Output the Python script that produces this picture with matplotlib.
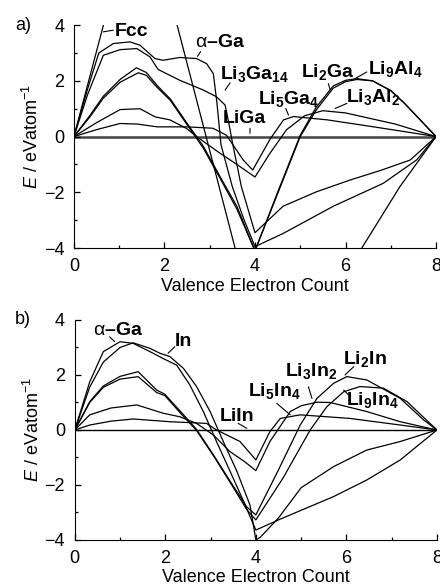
import matplotlib
matplotlib.use("Agg")
import matplotlib.pyplot as plt
from matplotlib.ticker import MultipleLocator

plt.rcParams['font.family'] = ['Liberation Sans', 'DejaVu Sans']
plt.rcParams['mathtext.fontset'] = 'custom'
plt.rcParams['mathtext.rm'] = 'Liberation Sans'
plt.rcParams['mathtext.it'] = 'Liberation Sans:italic'
plt.rcParams['mathtext.bf'] = 'Liberation Sans:bold'

# ---- panel a) : energies relative to LiGa (zero line) ----
fcc_x = [0, 0.75, 1.4, 2.2, 2.28, 3.56, 3.7, 5.0, 6.2, 6.36, 7.2, 8]
fcc_y = [0, 4.6, 6.0, 4.5, 4.0, -4.0, -4.9, -7.0, -4.9, -4.0, -1.8, 0]

aga_a_x = [0, 0.3, 0.55, 0.87, 1.24, 1.46, 1.79, 1.97, 2.34, 2.71, 2.93, 3.08, 3.16, 3.25, 3.5, 3.75, 4.0, 4.63, 5.73, 6.83, 7.57, 8]
aga_a_y = [0, 1.7, 3.0, 3.34, 3.4, 3.28, 2.8, 2.74, 2.84, 2.8, 2.62, 2.26, 1.2, -0.3, -1.8, -2.95, -3.95, -3.47, -2.5, -1.68, -0.84, 0]

li3ga14_x = [0, 0.3, 0.65, 1.02, 1.39, 1.68, 1.86, 2.34, 2.86, 3.15, 3.34, 3.42, 3.5, 3.7, 4.0, 4.62, 5.36, 6.1, 6.8, 7.43, 8]
li3ga14_y = [0, 1.5, 2.92, 3.12, 3.16, 2.86, 2.41, 2.02, 1.67, 1.43, 1.13, 0.5, -0.2, -1.8, -3.45, -2.5, -1.98, -1.56, -1.2, -0.84, 0]

li2ga_x = [0, 0.35, 0.65, 1.02, 1.38, 1.6, 1.83, 2.13, 2.49, 2.86, 3.23, 3.6, 4.0, 4.5, 5.0, 5.35, 5.73, 6.0, 6.25, 6.6, 7.0, 7.3, 7.65, 8]
li2ga_y = [0, 0.75, 1.45, 2.05, 2.47, 2.3, 1.85, 1.35, 0.5, -0.35, -1.44, -2.5, -4.1, -2.0, 0.05, 1.05, 1.82, 2.02, 2.08, 2.0, 1.65, 1.2, 0.6, 0]

li9al4_x = [0, 0.35, 0.65, 1.02, 1.42, 1.6, 1.83, 2.13, 2.49, 2.86, 3.23, 3.6, 4.0, 4.5, 5.0, 5.35, 5.73, 6.0, 6.25, 6.6, 7.0, 7.3, 7.65, 8]
li9al4_y = [0, 0.7, 1.38, 1.95, 2.29, 2.2, 1.78, 1.3, 0.45, -0.42, -1.5, -2.6, -4.1, -2.05, 0.0, 0.95, 1.74, 1.97, 2.05, 2.0, 1.65, 1.2, 0.6, 0]

li5ga4_x = [0, 0.5, 1.02, 1.4, 1.84, 2.5, 3.07, 3.37, 3.74, 3.95, 4.33, 4.63, 4.85, 5.6, 6.5, 7.3, 8]
li5ga4_y = [0, 0.25, 0.47, 0.45, 0.35, 0.35, 0.3, 0.05, -0.84, -1.2, -0.1, 0.6, 0.72, 0.6, 0.38, 0.18, 0]

li3al2_x = [0, 0.5, 1.02, 1.46, 1.79, 2.12, 2.49, 2.71, 3.23, 3.6, 4.0, 4.33, 4.7, 5.1, 5.5, 6.0, 7.1, 8]
li3al2_y = [0, 0.5, 0.97, 1.0, 0.71, 0.6, 0.29, 0.0, -0.6, -1.0, -1.45, -0.6, 0.25, 0.75, 0.93, 0.85, 0.45, 0]

# ---- panel b) : energies relative to LiIn (zero line) ----
aga_b_x = [0, 0.33, 0.63, 1.0, 1.29, 1.66, 1.95, 2.25, 2.54, 2.84, 3.13, 3.43, 3.73, 4.0, 4.5, 5.72, 6.45, 7.19, 8]
aga_b_y = [0, 1.75, 2.85, 3.21, 3.15, 2.85, 2.6, 2.36, 1.64, 0.67, -0.42, -1.5, -2.6, -3.64, -3.27, -2.42, -1.82, -1.09, 0]

in_x = [0, 0.33, 0.63, 1.0, 1.29, 1.66, 1.88, 2.1, 2.4, 2.69, 2.99, 3.28, 3.58, 3.87, 4.0, 4.1, 4.5, 5.0, 5.72, 6.45, 7.19, 8]
in_y = [0, 1.56, 2.47, 3.0, 3.17, 2.97, 2.79, 2.67, 2.24, 1.58, 0.67, -0.42, -1.5, -2.73, -4.0, -3.9, -3.2, -2.1, -1.33, -0.73, -0.42, 0]

li2in_x = [0, 0.33, 0.63, 1.0, 1.4, 1.81, 1.99, 2.32, 2.69, 3.06, 3.43, 3.8, 4.0, 4.5, 4.98, 5.35, 5.72, 6.01, 6.45, 7.19, 7.71, 8]
li2in_y = [0, 1.03, 1.6, 1.95, 2.12, 1.45, 1.3, 0.7, 0.02, -0.9, -1.86, -2.8, -3.09, -1.45, 0.18, 1.15, 1.7, 1.94, 1.82, 1.15, 0.36, 0]

li9in4_x = [0, 0.33, 0.63, 1.0, 1.4, 1.81, 1.99, 2.32, 2.69, 3.06, 3.43, 3.8, 4.0, 4.6, 5.2, 5.57, 5.94, 6.3, 6.82, 7.34, 8]
li9in4_y = [0, 1.0, 1.55, 1.85, 1.94, 1.36, 1.25, 0.64, -0.02, -0.93, -1.9, -2.9, -3.27, -1.75, 0.0, 0.85, 1.39, 1.58, 1.52, 1.03, 0]

li3in2_x = [0, 0.33, 0.8, 1.37, 1.95, 2.32, 2.69, 3.06, 3.43, 3.75, 4.0, 4.31, 4.76, 5.0, 5.35, 5.64, 6.45, 7.19, 8]
li3in2_y = [0, 0.55, 0.8, 0.91, 0.61, 0.48, 0.24, -0.18, -0.79, -1.15, -1.48, -0.42, 0.67, 0.88, 1.01, 1.0, 0.67, 0.3, 0]

li5in4_x = [0, 0.33, 0.8, 1.29, 2.1, 2.91, 3.13, 3.43, 3.65, 4.0, 4.31, 4.54, 4.98, 6.08, 7.19, 8]
li5in4_y = [0, 0.18, 0.32, 0.4, 0.3, 0.24, 0.0, -0.24, -0.42, -1.09, -0.06, 0.42, 0.55, 0.42, 0.18, 0]


def style_axes(ax):
    ax.set_xlim(0, 8)
    ax.set_ylim(-4, 4)
    ax.spines['top'].set_visible(False)
    ax.spines['right'].set_visible(False)
    ax.xaxis.set_major_locator(MultipleLocator(2))
    ax.xaxis.set_minor_locator(MultipleLocator(1))
    ax.yaxis.set_major_locator(MultipleLocator(2))
    ax.yaxis.set_minor_locator(MultipleLocator(1))
    ax.tick_params(which='both', direction='in', width=0.9, labelsize=13)
    ax.tick_params(which='major', length=4, pad=7)
    ax.tick_params(which='minor', length=2.5)
    ax.set_xticks([0, 2, 4, 6, 8])
    ax.set_yticks([-4, -2, 0, 2, 4])
    ax.set_yticklabels(['\u22124', '\u22122', '0', '2', '4'])
    ax.set_xlabel('Valence Electron Count', fontsize=13, labelpad=2)
    ax.set_ylabel(r'$\mathit{E}$ / eVatom$^{-1}$', fontsize=13, labelpad=1)


def label(ax, txt, xy, xytext, tx, ty, ha='left'):
    ax.annotate('', xy=xy, xytext=xytext,
                arrowprops=dict(arrowstyle='-', lw=0.8, color='black', shrinkA=0, shrinkB=0))
    ax.text(tx, ty, txt, fontsize=14, fontweight='bold', ha=ha, va='center')


fig = plt.figure(figsize=(4.4, 5.85), dpi=100)
ax1 = fig.add_axes([0.168, 0.576, 0.823, 0.381])
ax2 = fig.add_axes([0.170, 0.077, 0.823, 0.376])

kw = dict(color='black', lw=0.9)

# panel a
ax1.axhline(0, color='#444444', lw=1.8, zorder=1)
for xs, ys in [(fcc_x, fcc_y), (aga_a_x, aga_a_y), (li3ga14_x, li3ga14_y),
               (li2ga_x, li2ga_y), (li9al4_x, li9al4_y), (li5ga4_x, li5ga4_y),
               (li3al2_x, li3al2_y)]:
    ax1.plot(xs, ys, **kw)
style_axes(ax1)

alpha_ga = r'$\mathrm{\alpha}$' + '\u2013Ga'
label(ax1, 'Fcc', (0.65, 3.76), (0.87, 3.82), 0.9, 3.78)
label(ax1, alpha_ga, (2.73, 2.88), (2.8, 3.05), 2.67, 3.36)
label(ax1, r'Li$_\mathbf{3}$Ga$_\mathbf{14}$', (3.34, 1.67), (3.45, 1.93), 3.22, 2.25)
label(ax1, r'Li$_\mathbf{2}$Ga', (5.66, 1.69), (5.62, 1.9), 5.02, 2.33)
label(ax1, r'Li$_\mathbf{9}$Al$_\mathbf{4}$', (6.21, 2.08), (6.47, 2.32), 6.5, 2.42)
label(ax1, r'Li$_\mathbf{5}$Ga$_\mathbf{4}$', (4.74, 0.77), (4.68, 1.01), 4.06, 1.35)
label(ax1, r'Li$_\mathbf{3}$Al$_\mathbf{2}$', (5.77, 1.01), (6.03, 1.19), 6.0, 1.43)
label(ax1, 'LiGa', (3.89, 0.12), (3.89, 0.3), 3.28, 0.66)

# panel b
ax2.axhline(0, color='black', lw=1.0, zorder=1)
for xs, ys in [(aga_b_x, aga_b_y), (in_x, in_y), (li2in_x, li2in_y),
               (li9in4_x, li9in4_y), (li3in2_x, li3in2_y), (li5in4_x, li5in4_y)]:
    ax2.plot(xs, ys, **kw)
style_axes(ax2)

label(ax2, alpha_ga, (0.88, 3.21), (0.77, 3.39), 0.40, 3.6)
label(ax2, 'In', (2.06, 2.79), (2.21, 3.03), 2.2, 3.22)
label(ax2, r'Li$_\mathbf{2}$In', (5.97, 2.0), (6.16, 2.3), 5.93, 2.57)
label(ax2, r'Li$_\mathbf{3}$In$_\mathbf{2}$', (5.24, 1.15), (5.16, 1.57), 4.64, 2.14)
label(ax2, r'Li$_\mathbf{5}$In$_\mathbf{4}$', (4.76, 0.55), (4.46, 0.97), 3.83, 1.41)
label(ax2, r'Li$_\mathbf{9}$In$_\mathbf{4}$', (5.94, 1.45), (6.05, 1.27), 6.0, 1.1)
label(ax2, 'LiIn', (3.61, 0.24), (3.8, 0.06), 3.2, 0.5)

fig.text(0.034, 0.957, 'a)', fontsize=13, va='center')
fig.text(0.034, 0.453, 'b)', fontsize=13, va='center')

fig.savefig('out.png', dpi=100)
